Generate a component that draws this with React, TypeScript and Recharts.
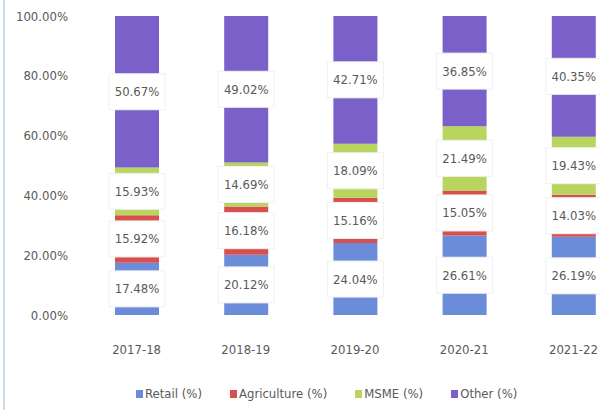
import React from "react";
import { BarChart, Bar, XAxis, YAxis, Legend, LabelList } from "recharts";

const years = ["2017-18", "2018-19", "2019-20", "2020-21", "2021-22"];
const retail = [17.48, 20.12, 24.04, 26.61, 26.19];
const agriculture = [15.92, 16.18, 15.16, 15.05, 14.03];
const msme = [15.93, 14.69, 18.09, 21.49, 19.43];
const other = [50.67, 49.02, 42.71, 36.85, 40.35];
const yTicks = [0, 20, 40, 60, 80, 100];

const FONT = '"DejaVu Sans Condensed", "Noto Sans", sans-serif';
const TEXT = "#595959";

const series = [
  { key: "retail", name: "Retail (%)", color: "#6a8cd9" },
  { key: "agriculture", name: "Agriculture (%)", color: "#d8504d" },
  { key: "msme", name: "MSME (%)", color: "#b8d65e" },
  { key: "other", name: "Other (%)", color: "#7a60c8" },
];

const data = years.map((year, i) => ({
  year,
  retail: retail[i],
  agriculture: agriculture[i],
  msme: msme[i],
  other: other[i],
}));

const renderLabel = (props: any) => {
  const { x, y, width, height, value } = props;
  const cx = Number(x) + Number(width) / 2;
  const cy = Number(y) + Number(height) / 2;
  return (
    <g>
      <rect x={cx - 28} y={cy - 18} width={56} height={36} fill="#fff" stroke="#f0f0f0" />
      <text x={cx} y={cy} textAnchor="middle" dominantBaseline="central" fill={TEXT} fontSize={13} fontFamily={FONT}>
        {Number(value).toFixed(2)}%
      </text>
    </g>
  );
};

const renderLegend = () => (
  <div style={{ display: "flex", fontFamily: FONT, fontSize: 13, color: TEXT }}>
    {series.map((s) => (
      <div key={s.key} style={{ display: "flex", alignItems: "center", marginRight: 28 }}>
        <span style={{ width: 7, height: 8, background: s.color, marginRight: 2, display: "inline-block" }} />
        <span>{s.name}</span>
      </div>
    ))}
  </div>
);

export default function App() {
  return (
    <div style={{ position: "absolute", left: 0, top: 0, width: 601, height: 410, overflow: "hidden", background: "#fff" }}>
      <div style={{ position: "absolute", left: 3, top: 0, width: 2, height: 410, background: "#cfdcee" }} />
      <BarChart width={641} height={410} data={data} margin={{ top: 16, right: 13, bottom: 0, left: 0 }}>
        <YAxis
          width={82}
          domain={[0, 100]}
          allowDataOverflow
          ticks={yTicks}
          tickFormatter={(v: number) => v.toFixed(2) + "%"}
          axisLine={false}
          tickLine={false}
          tickSize={0}
          tickMargin={14}
          tick={{ fill: TEXT, fontSize: 13, fontFamily: FONT }}
        />
        <XAxis
          dataKey="year"
          height={80}
          axisLine={false}
          tickLine={false}
          tickSize={0}
          tickMargin={30}
          tick={{ fill: TEXT, fontSize: 13, fontFamily: FONT }}
        />
        <Legend
          content={renderLegend}
          wrapperStyle={{ left: 136, top: 386, width: "auto" }}
        />
        {series.map((s) => (
          <Bar key={s.key} dataKey={s.key} name={s.name} stackId="a" fill={s.color} barSize={44} isAnimationActive={false}>
            <LabelList dataKey={s.key} content={renderLabel} />
          </Bar>
        ))}
      </BarChart>
    </div>
  );
}
